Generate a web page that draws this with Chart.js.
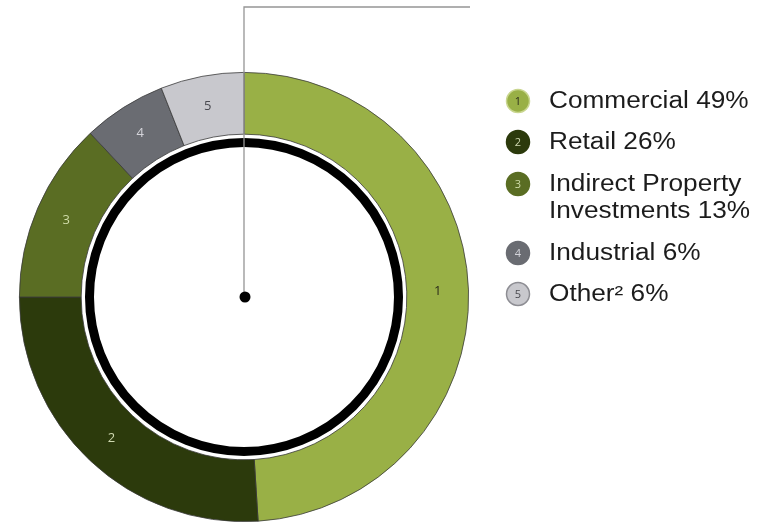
<!DOCTYPE html>
<html>
<head>
<meta charset="utf-8">
<script src="https://cdn.jsdelivr.net/npm/chart.js@4/dist/chart.umd.min.js"></script>
<style>
  html, body { margin: 0; padding: 0; background: #fff; }
  #wrap { width: 765px; height: 522px; }
</style>
</head>
<body>
<div id="wrap"><canvas id="portfolio" width="765" height="522"></canvas></div>
<script>
// Portfolio split by sector, in percent
const categories = ['Commercial', 'Retail', 'Indirect Property Investments', 'Industrial', 'Other²'];
const shares = [49, 26, 13, 6, 6];
const segmentNumbers = ['1', '2', '3', '4', '5'];
// legend text, one entry per line (the share goes on the last line)
const legendLines = [['Commercial'], ['Retail'], ['Indirect Property', 'Investments'], ['Industrial'], ['Other²']];

const fills = ['#99b046', '#2c3a0c', '#5a6d23', '#6a6c72', '#c8c8cd'];
const numberColors = ['#2b2b1a', '#cfd8b0', '#cfdca8', '#d4d4da', '#4a4a50'];
const badgeRims = ['#c9d68f', '#2c3a0c', '#5a6d23', '#6a6c72', '#8d8d93'];

// black ring inside the donut, the pointer line and the centre dot
const decorations = {
    id: 'decorations',
    afterDatasetsDraw(chart) {
        const ctx = chart.ctx;
        const arc = chart.getDatasetMeta(0).data[0];
        const cx = arc.x, cy = arc.y;

        ctx.save();
        ctx.beginPath();
        ctx.arc(cx, cy, 154.5, 0, Math.PI * 2);
        ctx.lineWidth = 9;
        ctx.strokeStyle = '#000';
        ctx.stroke();

        ctx.beginPath();
        ctx.moveTo(cx, cy);
        ctx.lineTo(cx, 7);
        ctx.lineTo(470, 7);
        ctx.lineWidth = 1.3;
        ctx.strokeStyle = '#959595';
        ctx.stroke();

        ctx.beginPath();
        ctx.arc(cx + 1, cy, 5.5, 0, Math.PI * 2);
        ctx.fillStyle = '#000';
        ctx.fill();

        // numbers on the segments
        ctx.font = '13px "Open Sans", sans-serif';
        ctx.textAlign = 'center';
        ctx.textBaseline = 'middle';
        chart.getDatasetMeta(0).data.forEach((el, i) => {
            const p = el.getCenterPoint();
            ctx.fillStyle = numberColors[i];
            ctx.fillText(segmentNumbers[i], p.x, p.y);
        });
        ctx.restore();
    }
};

// numbered badges with the sector names on the right
const sideLegend = {
    id: 'sideLegend',
    afterDraw(chart) {
        const ctx = chart.ctx;
        const badgeX = 518, textX = 549, lineGap = 27;
        const rowY = [101, 142, 184, 253, 294];

        ctx.save();
        legendLines.forEach((lines, i) => {
            const y = rowY[i];
            ctx.beginPath();
            ctx.arc(badgeX, y, 11.5, 0, Math.PI * 2);
            ctx.fillStyle = fills[i];
            ctx.fill();
            ctx.lineWidth = 1.5;
            ctx.strokeStyle = badgeRims[i];
            ctx.stroke();

            ctx.font = '11px "Open Sans", sans-serif';
            ctx.textAlign = 'center';
            ctx.textBaseline = 'middle';
            ctx.fillStyle = numberColors[i];
            ctx.fillText(segmentNumbers[i], badgeX, y + 0.5);

            ctx.font = '23px "Liberation Sans", Arial, sans-serif';
            ctx.textAlign = 'left';
            ctx.fillStyle = '#1c1c1c';
            lines.forEach((line, j) => {
                const txt = j === lines.length - 1 ? line + ' ' + shares[i] + '%' : line;
                ctx.save();
                ctx.translate(textX, y + j * lineGap + 1);
                ctx.scale(1.14, 1);
                ctx.fillText(txt, 0, 0);
                ctx.restore();
            });
        });
        ctx.restore();
    }
};

new Chart(document.getElementById('portfolio'), {
    type: 'doughnut',
    data: {
        labels: categories,
        datasets: [{
            data: shares,
            backgroundColor: fills,
            borderColor: '#3a3a3a',
            borderWidth: 0.8,
            cutout: '72.5%'
        }]
    },
    options: {
        responsive: false,
        animation: false,
        layout: { padding: { left: 19, right: 296, top: 72, bottom: 0 } },
        plugins: {
            legend: { display: false },
            tooltip: { enabled: false }
        }
    },
    plugins: [decorations, sideLegend]
});
</script>
</body>
</html>
